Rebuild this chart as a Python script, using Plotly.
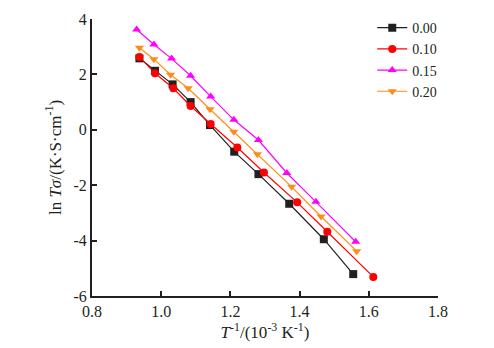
import plotly.graph_objects as go

x_000 = [0.937, 0.982, 1.033, 1.085, 1.141, 1.211, 1.281, 1.370, 1.470, 1.555]
y_000 = [2.58, 2.13, 1.64, 1.00, 0.17, -0.79, -1.60, -2.67, -3.95, -5.21]

x_010 = [0.937, 0.982, 1.035, 1.085, 1.143, 1.220, 1.297, 1.393, 1.480, 1.613]
y_010 = [2.63, 2.04, 1.50, 0.86, 0.21, -0.64, -1.54, -2.62, -3.68, -5.31]

x_015 = [0.929, 0.979, 1.030, 1.085, 1.143, 1.210, 1.281, 1.363, 1.447, 1.562]
y_015 = [3.62, 3.08, 2.57, 1.95, 1.20, 0.36, -0.37, -1.56, -2.60, -4.04]

x_020 = [0.937, 0.979, 1.027, 1.078, 1.141, 1.210, 1.278, 1.377, 1.462, 1.565]
y_020 = [2.96, 2.55, 1.99, 1.50, 0.74, -0.07, -0.88, -2.06, -3.13, -4.38]

names = ["0.00", "0.10", "0.15", "0.20"]
colors = ["#231f20", "#ff0000", "#ff00ff", "#ff8c1a"]
symbols = ["square", "circle", "triangle-up", "triangle-down"]
xs = [x_000, x_010, x_015, x_020]
ys = [y_000, y_010, y_015, y_020]

x_ticks = [0.8, 1.0, 1.2, 1.4, 1.6, 1.8]
y_ticks = [-6, -4, -2, 0, 2, 4]

FONT = "Liberation Serif, Times New Roman, serif"

fig = go.Figure()
for n, c, s, x, y in zip(names, colors, symbols, xs, ys):
    fig.add_trace(go.Scatter(
        x=x, y=y, name=n, mode="lines+markers",
        line=dict(color=c, width=1.2),
        marker=dict(symbol=s, color=c, size=8),
    ))

fig.update_layout(
    width=494, height=348,
    margin=dict(l=92, r=56, t=16, b=52),
    paper_bgcolor="white", plot_bgcolor="white",
    font=dict(family=FONT, size=16, color="#231f20"),
    showlegend=True,
    legend=dict(x=0.81, y=1.025, xanchor="left", yanchor="top",
                bgcolor="rgba(0,0,0,0)", font=dict(size=14, family=FONT),
                tracegroupgap=0, itemwidth=30),
    xaxis=dict(range=[0.8, 1.8], tickvals=x_ticks,
               ticktext=[f"{v:.1f}" for v in x_ticks],
               showgrid=False, zeroline=False, showline=True,
               linecolor="#231f20", linewidth=2,
               ticks="inside", ticklen=5, tickwidth=1.5, tickcolor="#231f20",
               title=dict(text="<i>T</i><sup>-1</sup>/(10<sup>-3</sup> K<sup>-1</sup>)",
                          standoff=4, font=dict(size=17))),
    yaxis=dict(range=[-6, 4], tickvals=y_ticks,
               ticktext=[str(v) for v in y_ticks],
               showgrid=False, zeroline=False, showline=True,
               linecolor="#231f20", linewidth=2,
               ticks="inside", ticklen=5, tickwidth=1.5, tickcolor="#231f20",
               title=dict(text="ln <i>T</i><i>σ</i>/(K·S·cm<sup>-1</sup>)",
                          standoff=8, font=dict(size=17))),
)

fig.write_html("out.html")
